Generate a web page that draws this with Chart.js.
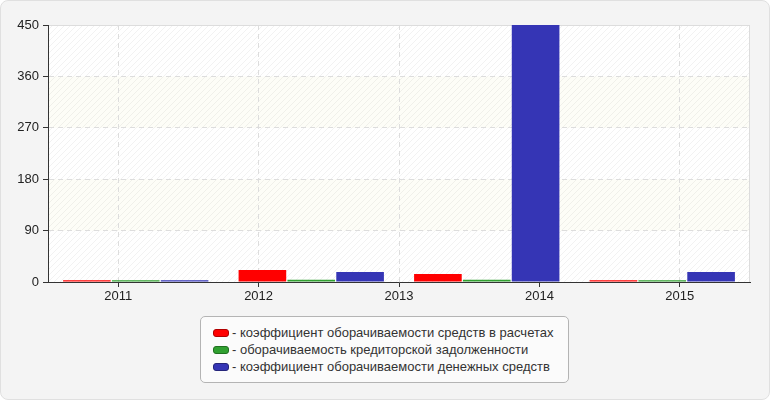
<!DOCTYPE html>
<html>
<head>
<meta charset="utf-8">
<script src="https://cdn.jsdelivr.net/npm/chart.js@4/dist/chart.umd.min.js"></script>
<style>
  html, body { margin: 0; padding: 0; background: #ffffff; }
  #wrap {
    position: relative; width: 768px; height: 398px;
    background: #f4f4f4; border: 1px solid #e0e0e0; border-radius: 8px; overflow: hidden;
  }
  #chart { position: absolute; left: -1px; top: -1px; }
  #legend {
    position: absolute; left: 199px; top: 315px; width: 369px; height: 67px;
    border: 1px solid #b4b4b4; border-radius: 5px; background: #fbfbfb;
    font-family: "Liberation Sans", Arial, sans-serif; font-size: 13px; color: #333;
    box-sizing: border-box; padding: 7px 0 0 12px;
  }
  .row { height: 17px; line-height: 17px; white-space: nowrap; }
  .sw {
    display: inline-block; width: 16px; height: 8px; border-radius: 3px;
    margin-right: 3px; vertical-align: 0px; box-sizing: border-box;
  }
</style>
</head>
<body>
<div id="wrap">
  <canvas id="chart" width="770" height="400"></canvas>
  <div id="legend"></div>
</div>
<script>
const groups = ["2011", "2012", "2013", "2014"];
const axisYears = [2011, 2012, 2013, 2014, 2015];
const yTicks = [0, 90, 180, 270, 360, 450];

const seriesNames = [
  "коэффициент оборачиваемости средств в расчетах",
  "оборачиваемость кредиторской задолженности",
  "коэффициент оборачиваемости денежных средств"
];
const settlementTurnover = [3, 21, 14, 3];
const payablesTurnover = [3, 4, 4, 3];
const cashTurnover = [3, 17.5, 455, 17.5];

const seriesColors = ["#ff0000", "#30a030", "#3535b5"];
const swatchBorders = ["#b00000", "#207020", "#25257a"];

// legend as plain html
const legendEl = document.getElementById("legend");
seriesNames.forEach((name, i) => {
  const row = document.createElement("div");
  row.className = "row";
  const sw = document.createElement("span");
  sw.className = "sw";
  sw.style.background = seriesColors[i];
  sw.style.border = "1px solid " + swatchBorders[i];
  row.appendChild(sw);
  row.appendChild(document.createTextNode("- " + name));
  legendEl.appendChild(row);
});

// hatched plot background with alternating bands
const hatch = document.createElement("canvas");
hatch.width = 6; hatch.height = 6;
const hctx = hatch.getContext("2d");
hctx.strokeStyle = "rgba(0,0,0,0.05)";
hctx.lineWidth = 1;
hctx.beginPath();
hctx.moveTo(0, 6); hctx.lineTo(6, 0);
hctx.moveTo(-3, 3); hctx.lineTo(3, -3);
hctx.moveTo(3, 9); hctx.lineTo(9, 3);
hctx.stroke();

const plotBackground = {
  id: "plotBackground",
  beforeDraw(chart) {
    const { ctx, chartArea: a, scales } = chart;
    ctx.save();
    ctx.fillStyle = "#ffffff";
    ctx.fillRect(a.left, a.top, a.width, a.height);
    for (let i = 0; i < yTicks.length - 1; i++) {
      if (i % 2 === 1) {
        const y1 = scales.y.getPixelForValue(yTicks[i + 1]);
        const y0 = scales.y.getPixelForValue(yTicks[i]);
        ctx.fillStyle = "#fdfdf7";
        ctx.fillRect(a.left, y1, a.width, y0 - y1);
      }
    }
    ctx.fillStyle = ctx.createPattern(hatch, "repeat");
    ctx.fillRect(a.left, a.top, a.width, a.height);
    ctx.strokeStyle = "#dcdcdc";
    ctx.lineWidth = 1;
    ctx.strokeRect(a.left + 0.5, a.top + 0.5, a.width - 1, a.height);
    ctx.restore();
  }
};

const makeSet = (i, data) => ({
  label: seriesNames[i],
  data: data,
  backgroundColor: seriesColors[i],
  borderWidth: 0,
  xAxisID: "x",
  yAxisID: "y"
});

new Chart(document.getElementById("chart"), {
  type: "bar",
  data: {
    labels: groups,
    datasets: [
      makeSet(0, settlementTurnover),
      makeSet(1, payablesTurnover),
      makeSet(2, cashTurnover)
    ]
  },
  options: {
    responsive: false,
    animation: false,
    devicePixelRatio: 1,
    categoryPercentage: 0.835,
    barPercentage: 0.975,
    layout: { padding: { left: 0, right: 20, top: 25, bottom: 93 } },
    plugins: {
      legend: { display: false },
      tooltip: { enabled: false }
    },
    scales: {
      x: {
        type: "category",
        display: false,
        offset: true
      },
      x2: {
        type: "linear",
        position: "bottom",
        min: 2010.5,
        max: 2015.5,
        offset: false,
        afterBuildTicks(scale) {
          scale.ticks = axisYears.map((v) => ({ value: v }));
        },
        afterFit(scale) { scale.height = 25; },
        grid: {
          offset: false,
          color: "#dddddd",
          tickColor: "#333333",
          tickLength: 5,
          drawOnChartArea: true
        },
        border: { color: "#333333", width: 1, dash: [5, 4] },
        ticks: {
          color: "#222222",
          padding: 2,
          font: { family: "'Liberation Sans', Arial, sans-serif", size: 13 },
          callback(value) { return String(value); }
        }
      },
      y: {
        min: 0,
        max: 450,
        afterBuildTicks(scale) {
          scale.ticks = yTicks.map((v) => ({ value: v }));
        },
        afterFit(scale) { scale.width = 48; },
        grid: {
          color: "#dddddd",
          tickColor: "#333333",
          tickLength: 5
        },
        border: { color: "#333333", width: 1, dash: [5, 4] },
        ticks: {
          color: "#222222",
          padding: 4,
          font: { family: "'Liberation Sans', Arial, sans-serif", size: 13 }
        }
      }
    }
  },
  plugins: [plotBackground]
});
</script>
</body>
</html>
